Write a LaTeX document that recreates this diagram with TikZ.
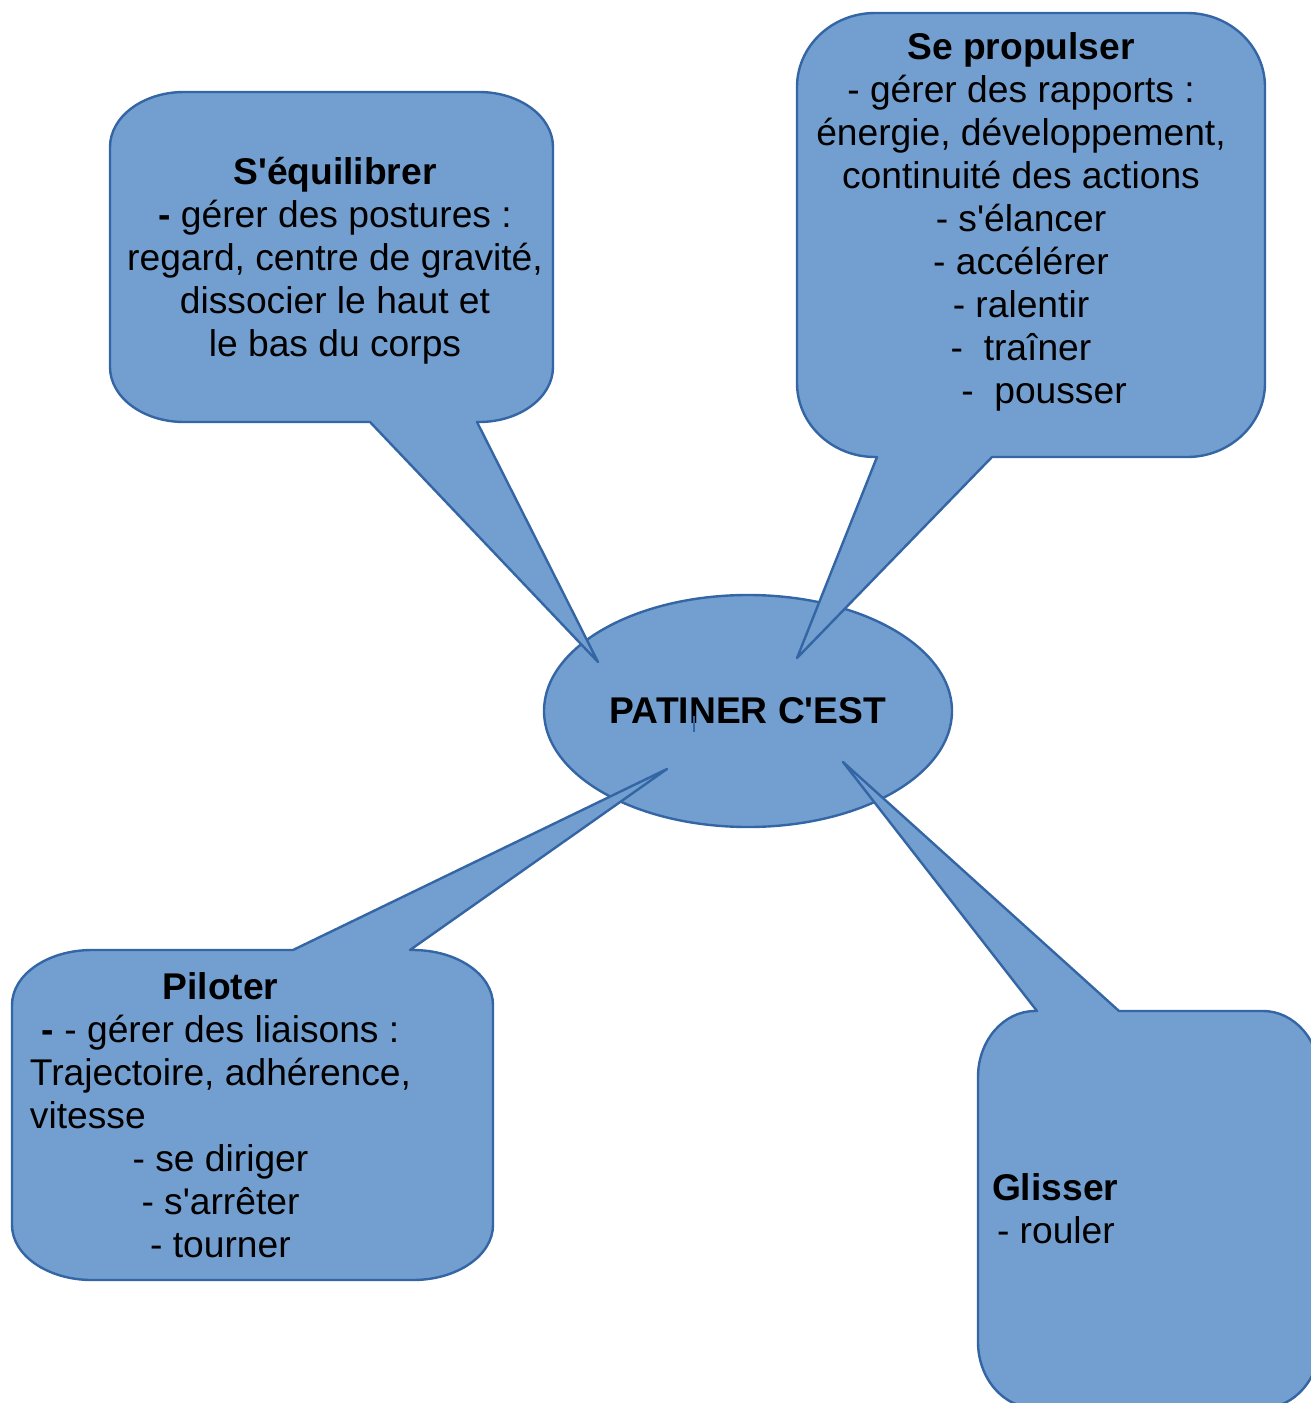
\documentclass[tikz,border=0pt]{standalone}
\usepackage{fontspec}
\setmainfont{Liberation Sans}
\usetikzlibrary{shapes.geometric}
\definecolor{calfill}{HTML}{729FCF}
\definecolor{calline}{HTML}{3465A4}
\newcommand{\apo}{\textquotesingle}
\tikzset{
  shapestyle/.style={fill=calfill, draw=calline, line width=1.2pt, line join=round},
  txt/.style={inner sep=0pt, outer sep=0pt, font=\fontsize{18.6}{21.5}\selectfont, text=black},
}
\begin{document}
\begin{tikzpicture}[x=0.5pt,y=-0.5pt]
\useasboundingbox (0,0) rectangle (1311,1403);
\clip (0,0) rectangle (1311,1403);

% central ellipse
\node[ellipse, shapestyle, minimum width=204pt, minimum height=116pt, inner sep=0pt,
      font=\fontsize{18.6}{21.5}\selectfont\bfseries] (center) at (748,711) {PATINER C\apo EST};

% tail tips
\coordinate (tip1) at (598,662);
\coordinate (tip2) at (797,658);
\coordinate (tip3) at (667,769);
\coordinate (tip4) at (843,762);

% callout 1 : S'équilibrer
\draw[shapestyle] (477,422) -- (tip1) -- (370,422) -- (184,422)
  .. controls (143.2,422) and (110,397.4) .. (110,367) -- (110,147)
  .. controls (110,116.6) and (143.2,92) .. (184,92) -- (479,92)
  .. controls (519.8,92) and (553,116.6) .. (553,147) -- (553,367)
  .. controls (553,397.4) and (519.8,422) .. (479,422) -- cycle;

% callout 2 : Se propulser
\draw[shapestyle] (992,457) -- (tip2) -- (877,457) -- (875,457)
  .. controls (831.9,457) and (797,423.8) .. (797,383) -- (797,87)
  .. controls (797,46.2) and (831.9,13) .. (875,13) -- (1187,13)
  .. controls (1230.1,13) and (1265,46.2) .. (1265,87) -- (1265,383)
  .. controls (1265,423.8) and (1230.1,457) .. (1187,457) -- cycle;

% callout 3 : Piloter
\draw[shapestyle] (293,950) -- (tip3) -- (410,950) -- (413,950)
  .. controls (457.2,950) and (493,974.6) .. (493,1005) -- (493,1225)
  .. controls (493,1255.4) and (457.2,1280) .. (413,1280) -- (92,1280)
  .. controls (47.8,1280) and (12,1255.4) .. (12,1225) -- (12,1005)
  .. controls (12,974.6) and (47.8,950) .. (92,950) -- cycle;

% callout 4 : Glisser
\draw[shapestyle] (1037,1011) -- (tip4) -- (1119,1011) -- (1263,1011)
  .. controls (1294.5,1011) and (1320,1040.6) .. (1320,1077) -- (1320,1342)
  .. controls (1320,1378.4) and (1294.5,1408) .. (1263,1408) -- (1035,1408)
  .. controls (1003.5,1408) and (978,1378.4) .. (978,1342) -- (978,1077)
  .. controls (978,1040.6) and (1003.5,1011) .. (1035,1011) -- cycle;

% texts
\node[txt, anchor=base] (t1) at (335,184) {\begin{tabular}[t]{@{}c@{}}
\textbf{S\apo équilibrer}\\
\textbf{-} gérer des postures :\\
regard, centre de gravité,\\
dissocier le haut et\\
le bas du corps\end{tabular}};

\node[txt, anchor=base] (t2) at (1021,59) {\begin{tabular}[t]{@{}c@{}}
\textbf{Se propulser}\\
- gérer des rapports :\\
énergie, développement,\\
continuité des actions\\
- s\apo élancer\\
- accélérer\\
- ralentir\\
-~~traîner\\
\hspace*{23pt}-~~pousser\end{tabular}};

\node[txt, anchor=base] (t3) at (220.5,999) {\begin{tabular}[t]{@{}c@{}}
\textbf{Piloter}\\
\textbf{-} - gérer des liaisons :\\
Trajectoire, adhérence,\\
\multicolumn{1}{@{}l@{}}{vitesse}\\
- se diriger\\
- s\apo arrêter\\
- tourner\end{tabular}};

\node[txt, anchor=base west] (t4) at (992,1200) {\begin{tabular}[t]{@{}l@{}}
\textbf{Glisser}\\
\hspace*{2.5pt}- rouler\end{tabular}};

% small mark on the I
\draw[calline, line width=1.4pt] (694,716) -- (694,732);
\end{tikzpicture}
\end{document}
